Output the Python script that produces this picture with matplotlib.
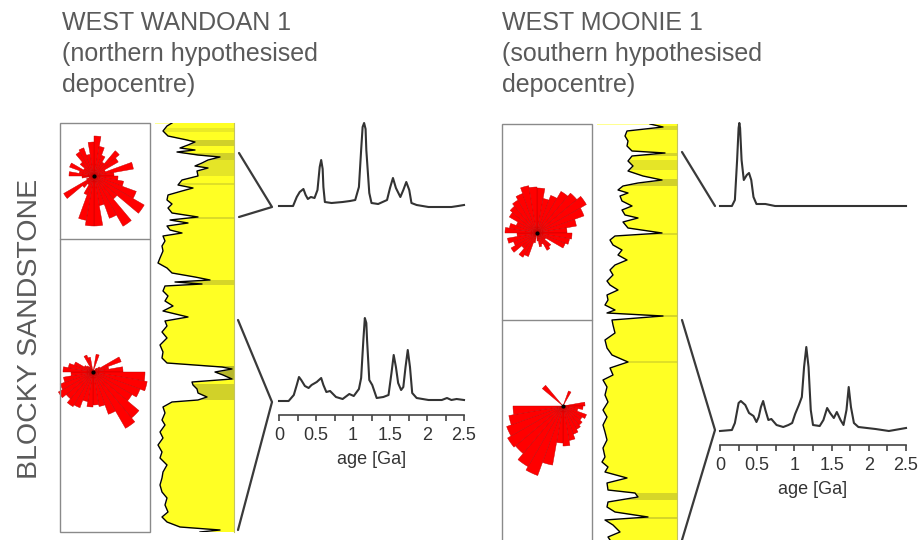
import numpy as np
import matplotlib
matplotlib.use("Agg")
import matplotlib.pyplot as plt
from matplotlib.lines import Line2D
from matplotlib.patches import Rectangle

plt.rcParams['font.family'] = ['Liberation Sans', 'DejaVu Sans']

W, H = 920, 540

# ---- rose diagrams: palaeocurrent counts per 10 degree sector (0 = north, clockwise)
sector_deg = np.arange(5, 360, 10)
rose_wandoan_upper = [40, 30, 22, 16, 33, 28, 12, 40, 20, 24, 30, 45, 58, 30, 58, 45, 30, 50,
                      50, 45, 20, 10, 15, 35, 8, 5, 12, 25, 15, 26, 12, 18, 28, 30, 22, 34]
rose_wandoan_lower = [0, 18, 0, 0, 5, 8, 30, 16, 30, 52, 55, 50, 45, 60, 65, 45, 35, 33,
                      35, 30, 38, 40, 35, 40, 35, 30, 22, 30, 25, 20, 10, 8, 6, 18, 15, 0]
rose_moonie_upper = [45, 35, 40, 48, 52, 57, 50, 40, 30, 35, 33, 30, 10, 18, 20, 12, 14, 8,
                     0, 10, 25, 28, 20, 30, 25, 30, 20, 32, 28, 22, 32, 35, 38, 42, 48, 46]
rose_moonie_lower = [0, 0, 16, 0, 0, 0, 0, 0, 22, 20, 15, 25, 22, 25, 27, 30, 35, 40,
                     37, 60, 74, 70, 62, 64, 60, 55, 50, 0, 0, 0, 0, 27, 0, 0, 0, 0]

# ---- gamma-ray style logs (depth from top of interval, log reading)
wandoan_depth = [0, 3, 8, 13, 17, 19, 22, 25, 27, 29, 32, 34, 37, 40, 43, 45, 48, 53, 57, 62,
                 65, 68, 72, 77, 81, 85, 90, 94, 97, 100, 103, 107, 110, 113, 118, 123, 128, 135, 140, 145,
                 150, 154, 157, 159, 161, 163, 168, 173, 178, 183, 188, 194, 198, 203,
                 209, 215, 222, 229, 235, 240, 244, 246, 249, 252, 256, 259, 262, 266, 270, 274, 277, 279, 284, 290,
                 297, 302, 309, 315, 322, 329, 335, 342, 349, 355, 362, 369, 375, 382, 389, 394, 399, 404, 407, 409]
wandoan_gr = [17, 12, 8, 13, 32, 40, 33, 25, 40, 22, 43, 65, 53, 47, 40, 53, 42, 43, 27, 23,
              38, 27, 13, 12, 17, 13, 17, 43, 15, 33, 12, 15, 27, 8, 10, 7, 8, 5, 3, 12,
              17, 40, 55, 20, 47, 10, 8, 13, 10, 18, 8, 33, 10, 12,
              7, 12, 5, 8, 7, 12, 67, 77, 60, 68, 77, 37, 38, 42, 43, 52, 43, 17, 8, 10,
              7, 10, 5, 8, 3, 7, 5, 12, 8, 7, 5, 7, 12, 10, 13, 7, 12, 25, 65, 45]
wandoan_bands = [(5, 9, 0.2), (17, 23, 0.45), (30, 37, 0.45), (37, 53, 0.25), (60, 62, 0.3),
                 (94, 96, 0.35), (157, 162, 0.4), (243, 257, 0.7), (261, 277, 0.45)]

moonie_depth = [0, 3, 7, 12, 17, 22, 27, 29, 32, 37, 42, 47, 52, 56, 59, 62, 66, 69, 72, 77,
                82, 86, 91, 94, 98, 104, 109, 112, 116, 121, 126, 131, 136, 141, 146, 151, 157, 161, 166, 171,
                176, 181, 186, 189, 192, 196,
                201, 209, 216, 224, 231, 238, 244, 251, 256, 263, 271, 278, 286, 293, 301, 308, 316, 324, 333, 338,
                343, 348, 354, 359, 366, 369, 373, 378, 383, 388, 393, 396, 401, 408, 413, 416]
moonie_gr = [53, 66, 30, 28, 31, 30, 35, 68, 35, 31, 36, 31, 46, 65, 41, 26, 21, 31, 23, 25,
             35, 25, 28, 41, 26, 31, 65, 18, 13, 16, 25, 21, 30, 18, 13, 16, 10, 13, 21, 10,
             11, 8, 18, 10, 66, 15,
             16, 18, 8, 10, 15, 31, 13, 16, 6, 10, 8, 11, 6, 10, 6, 8, 10, 6, 8, 5,
             11, 8, 30, 10, 11, 38, 41, 11, 10, 18, 51, 8, 16, 23, 11, 13]
moonie_bands = [(2, 6, 0.35), (29, 32, 0.4), (36, 46, 0.25), (55, 62, 0.45), (109, 111, 0.35),
                (191, 193, 0.4), (237, 239, 0.3), (369, 376, 0.4), (393, 395, 0.4)]

# ---- detrital zircon age spectra (age in Ga, relative probability)
ww_upper_age = [0, 0.19, 0.24, 0.28, 0.33, 0.36, 0.39, 0.43, 0.48, 0.52, 0.55, 0.57, 0.59, 0.60, 0.62,
                0.71, 0.86, 0.96, 1.03, 1.08, 1.11, 1.13, 1.15, 1.17, 1.18, 1.22, 1.25, 1.34, 1.46,
                1.50, 1.54, 1.58, 1.64, 1.68, 1.72, 1.76, 1.79, 1.86, 2.02, 2.33, 2.42, 2.5]
ww_upper_p = [1, 1, 10, 15, 18, 12, 8, 10, 9, 17, 40, 47, 38, 20, 5,
              4, 5, 6, 7, 20, 57, 80, 84, 78, 57, 14, 4, 3, 7,
              19, 29, 19, 10, 17, 25, 17, 4, 2, 0, 0, 1, 2]

ww_lower_age = [0, 0.13, 0.20, 0.24, 0.27, 0.30, 0.35, 0.40, 0.44, 0.51, 0.57, 0.60, 0.64, 0.69,
                0.77, 0.86, 0.95, 1.01, 1.08, 1.11, 1.14, 1.16, 1.18, 1.19, 1.22, 1.26, 1.32, 1.41,
                1.48, 1.52, 1.55, 1.58, 1.61, 1.65, 1.68, 1.71, 1.74, 1.77, 1.80, 1.86, 2.02,
                2.20, 2.27, 2.33, 2.40, 2.5]
ww_lower_p = [0, 0, 6, 16, 24, 21, 15, 13, 16, 19, 23, 16, 9, 10,
              4, 2, 7, 5, 12, 23, 61, 83, 78, 61, 21, 16, 3, 4,
              6, 28, 46, 34, 18, 11, 14, 34, 51, 34, 8, 3, 1,
              1, 3, 1, 2, 1]

wm_upper_age = [0, 0.16, 0.20, 0.23, 0.25, 0.26, 0.27, 0.29, 0.32, 0.36, 0.39, 0.42, 0.45, 0.49,
                0.61, 0.74, 2.5]
wm_upper_p = [0, 0, 6, 46, 78, 83, 78, 46, 26, 31, 33, 26, 9, 2,
              2, 0, 0]

wm_lower_age = [0, 0.16, 0.20, 0.25, 0.28, 0.34, 0.39, 0.45, 0.49, 0.52, 0.55, 0.58, 0.61, 0.65,
                0.69, 0.76, 0.85, 0.92, 0.97, 1.01, 1.06, 1.10, 1.13, 1.16, 1.19, 1.22, 1.25, 1.34,
                1.39, 1.44, 1.48, 1.53, 1.57, 1.62, 1.66, 1.70, 1.73, 1.76, 1.80, 1.86, 2.09, 2.27, 2.5]
wm_lower_p = [0, 1, 8, 28, 30, 26, 18, 15, 9, 14, 24, 30, 21, 11,
              12, 6, 4, 6, 8, 17, 26, 34, 64, 84, 64, 21, 6, 5,
              11, 23, 18, 13, 19, 11, 6, 21, 44, 24, 8, 4, 2, 0, 3]

age_ticks = [0, 0.5, 1, 1.5, 2, 2.5]
age_ticklabels = ['0', '0.5', '1', '1.5', '2', '2.5']

text_grey = '#5a5a5a'
line_grey = '#3a3a3a'

fig = plt.figure(figsize=(W / 100, H / 100), dpi=100)


def px_axes(x0, y0, x1, y1, **kw):
    # axes placed by pixel box (y measured from the top)
    return fig.add_axes([x0 / W, 1 - y1 / H, (x1 - x0) / W, (y1 - y0) / H], **kw)


def fig_line(xs, ys, color=line_grey, lw=1.6):
    fig.add_artist(Line2D([x / W for x in xs], [1 - y / H for y in ys],
                          transform=fig.transFigure, color=color, lw=lw,
                          solid_capstyle='round'))


def rose(cx, cy, counts, R=80):
    ax = px_axes(cx - R, cy - R, cx + R, cy + R, projection='polar')
    ax.set_theta_zero_location('N')
    ax.set_theta_direction(-1)
    ax.bar(np.radians(sector_deg), counts, width=np.radians(10), bottom=0,
           color='#ff0000', edgecolor='#c00000', linewidth=0.3)
    ax.plot([0], [0], 'o', color='black', ms=2)
    ax.set_ylim(0, R)
    ax.set_axis_off()
    ax.patch.set_visible(False)


def well_log(x0, y0, x1, y1, depth, gr, bands):
    ax = px_axes(x0, y0, x1, y1)
    ax.set_facecolor('#ffff24')
    for top, base, a in bands:
        ax.axhspan(top, base, color='#9a9a30', alpha=a, lw=0)
    ax.fill_betweenx(depth, -5, gr, color='white', lw=0)
    ax.plot(gr, depth, color='black', lw=1.0)
    ax.set_xlim(0, x1 - x0)
    ax.set_ylim(max(depth), 0)
    ax.set_xticks([])
    ax.set_yticks([])
    for s in ['top', 'left', 'bottom']:
        ax.spines[s].set_visible(False)
    ax.spines['right'].set_color('#c4c460')
    ax.spines['right'].set_linewidth(0.8)


def spectrum(x0, y0, x1, y1, age, p, ymin, with_axis):
    ax = px_axes(x0, y0, x1, y1)
    ax.plot(age, p, color='#333333', lw=1.5, clip_on=False)
    ax.set_xlim(0, 2.5)
    ax.set_ylim(ymin, 90)
    ax.patch.set_visible(False)
    for s in ['top', 'left', 'right']:
        ax.spines[s].set_visible(False)
    ax.set_yticks([])
    if with_axis:
        ax.spines['bottom'].set_color('#444444')
        ax.spines['bottom'].set_linewidth(1.2)
        ax.set_xticks(age_ticks)
        ax.set_xticklabels(age_ticklabels)
        ax.set_xticks(np.arange(0.25, 2.5, 0.5), minor=True)
        ax.tick_params(axis='x', which='both', direction='out', length=4, width=1.2,
                       color='#444444', pad=4.5, labelsize=13, labelcolor='#333333')
        ax.set_xlabel('age [Ga]', fontsize=13, color='#333333', labelpad=5)
    else:
        ax.spines['bottom'].set_visible(False)
        ax.set_xticks([])


# titles
fig.text(62 / W, 1 - 11 / H, 'WEST WANDOAN 1\n(northern hypothesised\ndepocentre)',
         ha='left', va='top', fontsize=18, color=text_grey, linespacing=1.38)
fig.text(502 / W, 1 - 11 / H, 'WEST MOONIE 1\n(southern hypothesised\ndepocentre)',
         ha='left', va='top', fontsize=18, color=text_grey, linespacing=1.38)
fig.text(30 / W, 1 - 329 / H, 'BLOCKY SANDSTONE', rotation=90, ha='center', va='center',
         fontsize=20.5, color=text_grey)

# rose diagram boxes
for (bx0, by0, bx1, by1, div) in [(60, 123, 150, 532, 239), (502, 124, 592, 545, 320)]:
    fig.add_artist(Rectangle((bx0 / W, 1 - by1 / H), (bx1 - bx0) / W, (by1 - by0) / H,
                             transform=fig.transFigure, fill=False, ec='#8a8a8a', lw=1.0))
    fig_line([bx0, bx1], [div, div], color='#8a8a8a', lw=1.0)

rose(94, 176, rose_wandoan_upper)
rose(93, 372, rose_wandoan_lower)
rose(537, 233, rose_moonie_upper)
rose(563, 406, rose_moonie_lower)

# logs
well_log(155, 123, 234, 532, wandoan_depth, wandoan_gr, wandoan_bands)
well_log(597, 124, 677, 540, moonie_depth, moonie_gr, moonie_bands)

# links from log intervals to age spectra
fig_line([239, 272, 239], [153, 207, 217])
fig_line([238, 272, 238], [320, 402, 530])
fig_line([682, 715], [152, 206])
fig_line([682, 715, 682], [320, 430, 540])

# age spectra
spectrum(279, 117, 464, 212, ww_upper_age, ww_upper_p, -5, False)
spectrum(279, 311, 464, 415, ww_lower_age, ww_lower_p, -14, True)
spectrum(720, 116, 906, 211, wm_upper_age, wm_upper_p, -5, False)
spectrum(720, 341, 906, 445, wm_lower_age, wm_lower_p, -14, True)

fig.savefig('out.png', dpi=100, facecolor='white')
